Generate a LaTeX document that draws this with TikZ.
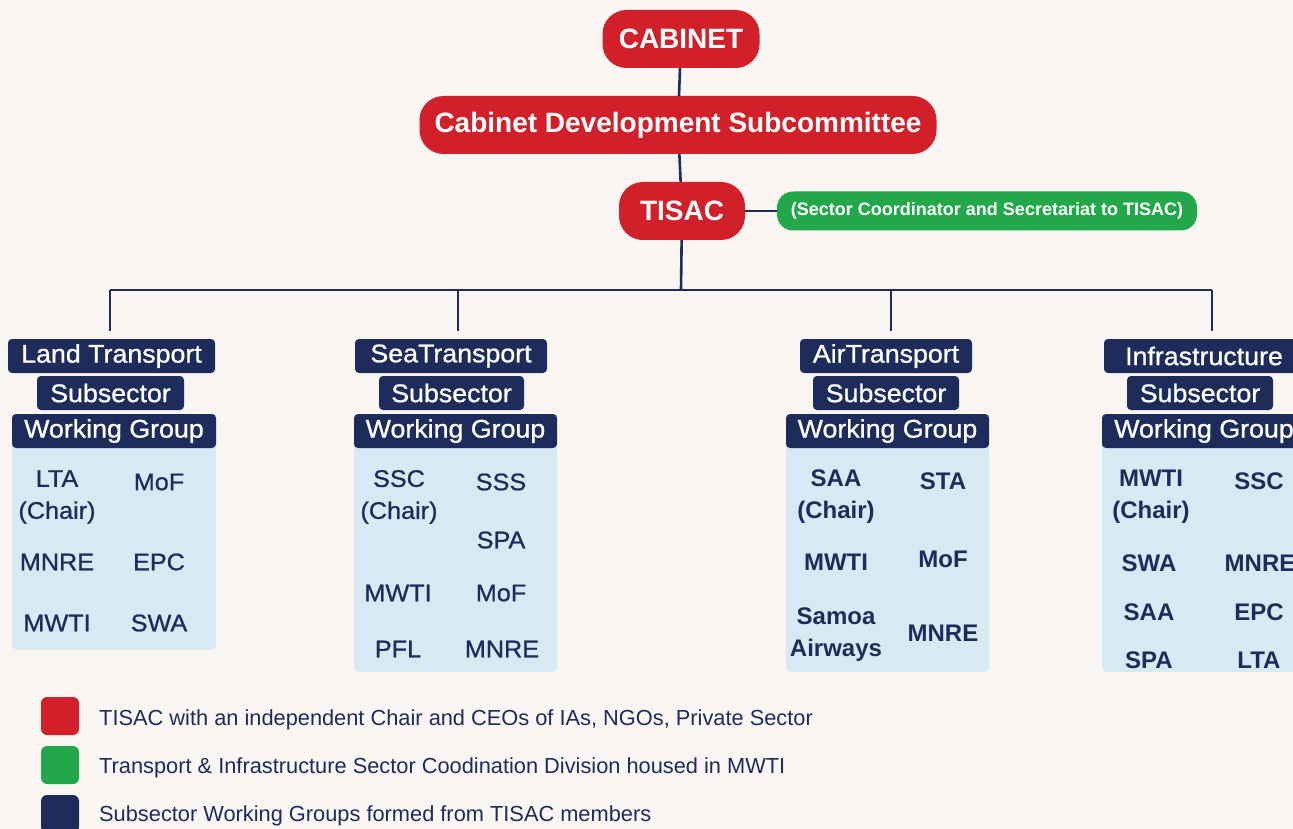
\documentclass[tikz,border=0pt]{standalone}
\usepackage{fontspec}
\setmainfont{Liberation Sans}
\newfontfamily\medfont{Liberation Sans}[FakeBold=0.9, FakeStretch=1.05]
\definecolor{cabred}{HTML}{D2202A}
\definecolor{secgreen}{HTML}{22A84A}
\definecolor{wgnavy}{HTML}{1E2C5B}
\definecolor{wgbody}{HTML}{D7EAF4}
\definecolor{paper}{HTML}{F8F5F2}

\begin{document}
\begin{tikzpicture}[x=1pt, y=-1pt,
  red box/.style={fill=cabred, text=white, font=\fontsize{28}{30}\selectfont\bfseries, rounded corners=24pt, inner sep=0pt, minimum height=58pt},
  green box/.style={fill=secgreen, text=white, font=\fontsize{18}{20}\selectfont\bfseries, rounded corners=16pt, inner sep=0pt, minimum height=39pt},
  head/.style={fill=wgnavy, text=white, font=\fontsize{25.5}{27}\medfont, rounded corners=4pt, inner sep=0pt, minimum height=34pt},
  member/.style={text=wgnavy, font=\fontsize{24}{32}\medfont, align=center, inner sep=0pt},
  bold member/.style={member, font=\fontsize{24}{32}\selectfont\bfseries},
  key/.style={minimum size=38pt, rounded corners=6pt, inner sep=0pt},
  key text/.style={text=wgnavy, font=\fontsize{21.8}{24}\selectfont, anchor=west, inner sep=0pt},
  link/.style={draw=wgnavy, line width=2.6pt}]
		\useasboundingbox (0,0) rectangle (1293,829);
		\fill[paper] (0,0) rectangle (1293,829);
		\clip (0,0) rectangle (1293,829);

		% top of the chart
		\node (cab)[red box, minimum width=157pt] at (681,39){CABINET};
		\node (cds)[red box, minimum width=517pt] at (678,125){Cabinet Development Subcommittee};
		\node (tisac)[red box, minimum width=126pt] at (682,211){TISAC};
		\node (sec)[green box, minimum width=420pt] at (987,211){(Sector Coordinator and Secretariat to TISAC)};

		\coordinate (bus) at (681,290);
		\coordinate (busL) at (110,290);
		\coordinate (busS) at (458,290);
		\coordinate (busA) at (891,290);
		\coordinate (busR) at (1212,290);

		% working group bodies
		\fill[wgbody, rounded corners=6pt] (12,440) rectangle (216,650);
		\fill[wgbody, rounded corners=6pt] (354,440) rectangle (557,672);
		\fill[wgbody, rounded corners=6pt] (786,440) rectangle (989,672);
		\fill[wgbody, rounded corners=6pt] (1102,440) rectangle (1306,672);

		\node (land)[head, minimum width=207pt] at (111.5,356){Land Transport};
		\node (landsub)[head, minimum width=147pt] at (110.5,393){Subsector};
		\node (landwg)[head, minimum width=204pt] at (114,431){Working Group};

		\node (sea)[head, minimum width=192pt] at (451,356){SeaTransport};
		\node (seasub)[head, minimum width=145pt] at (451.5,393){Subsector};
		\node (seawg)[head, minimum width=203pt] at (455.5,431){Working Group};

		\node (air)[head, minimum width=172pt] at (886,356){AirTransport};
		\node (airsub)[head, minimum width=146pt] at (886,393){Subsector};
		\node (airwg)[head, minimum width=203pt] at (887.5,431){Working Group};

		\node (infra)[head, minimum width=200pt] at (1204,356){Infrastructure};
		\node (infrasub)[head, minimum width=146pt] at (1200,393){Subsector};
		\node (infrawg)[head, minimum width=204pt] at (1204,431){Working Group};

		% members
		\foreach \t/\x/\y [count=\i] in {LTA\\(Chair)/57/497, MoF/159/482, MNRE/57/562, EPC/159/562, MWTI/57/623, SWA/159/623}
			\node (landm\i)[member] at (\x,\y){\t};
		\foreach \t/\x/\y [count=\i] in {SSC\\(Chair)/399/497, SSS/501/482, SPA/501/540, MWTI/398/593, MoF/501/593, PFL/398/649, MNRE/502/649}
			\node (seam\i)[member] at (\x,\y){\t};
		\foreach \t/\x/\y [count=\i] in {SAA\\(Chair)/836/497, STA/943/481, MWTI/836/562, MoF/943/559, Samoa\\Airways/836/635, MNRE/943/633}
			\node (airm\i)[bold member] at (\x,\y){\t};
		\foreach \t/\x/\y [count=\i] in {MWTI\\(Chair)/1151/497, SSC/1259/481, SWA/1149/563, MNRE/1260/563, SAA/1149/612, EPC/1259/612, SPA/1149/660, LTA/1259/660}
			\node (infram\i)[bold member] at (\x,\y){\t};

		% connectors
		\draw [link](cab) -- (cds);
		\draw [link](cds) -- (tisac);
		\draw [link](tisac) -- (sec);
		\draw [link](tisac) -- (bus);
		\draw [link](busL) -- (busR);
		\draw [link, shorten >=8pt](busL) -- (busL |- land.north);
		\draw [link, shorten >=8pt](busS) -- (busS |- sea.north);
		\draw [link, shorten >=8pt](busA) -- (busA |- air.north);
		\draw [link, shorten >=8pt](busR) -- (busR |- infra.north);

		% legend
		\node (keyred)[key, fill=cabred] at (60,716){};
		\node (keygreen)[key, fill=secgreen] at (60,765){};
		\node (keynavy)[key, fill=wgnavy] at (60,814){};
		\node (keyredtext)[key text] at (99,720){TISAC with an independent Chair and CEOs of IAs, NGOs, Private Sector};
		\node (keygreentext)[key text] at (99,768){Transport \& Infrastructure Sector Coodination Division housed in MWTI};
		\node (keynavytext)[key text] at (99,816){Subsector Working Groups formed from TISAC members};
	\end{tikzpicture}
\end{document}
